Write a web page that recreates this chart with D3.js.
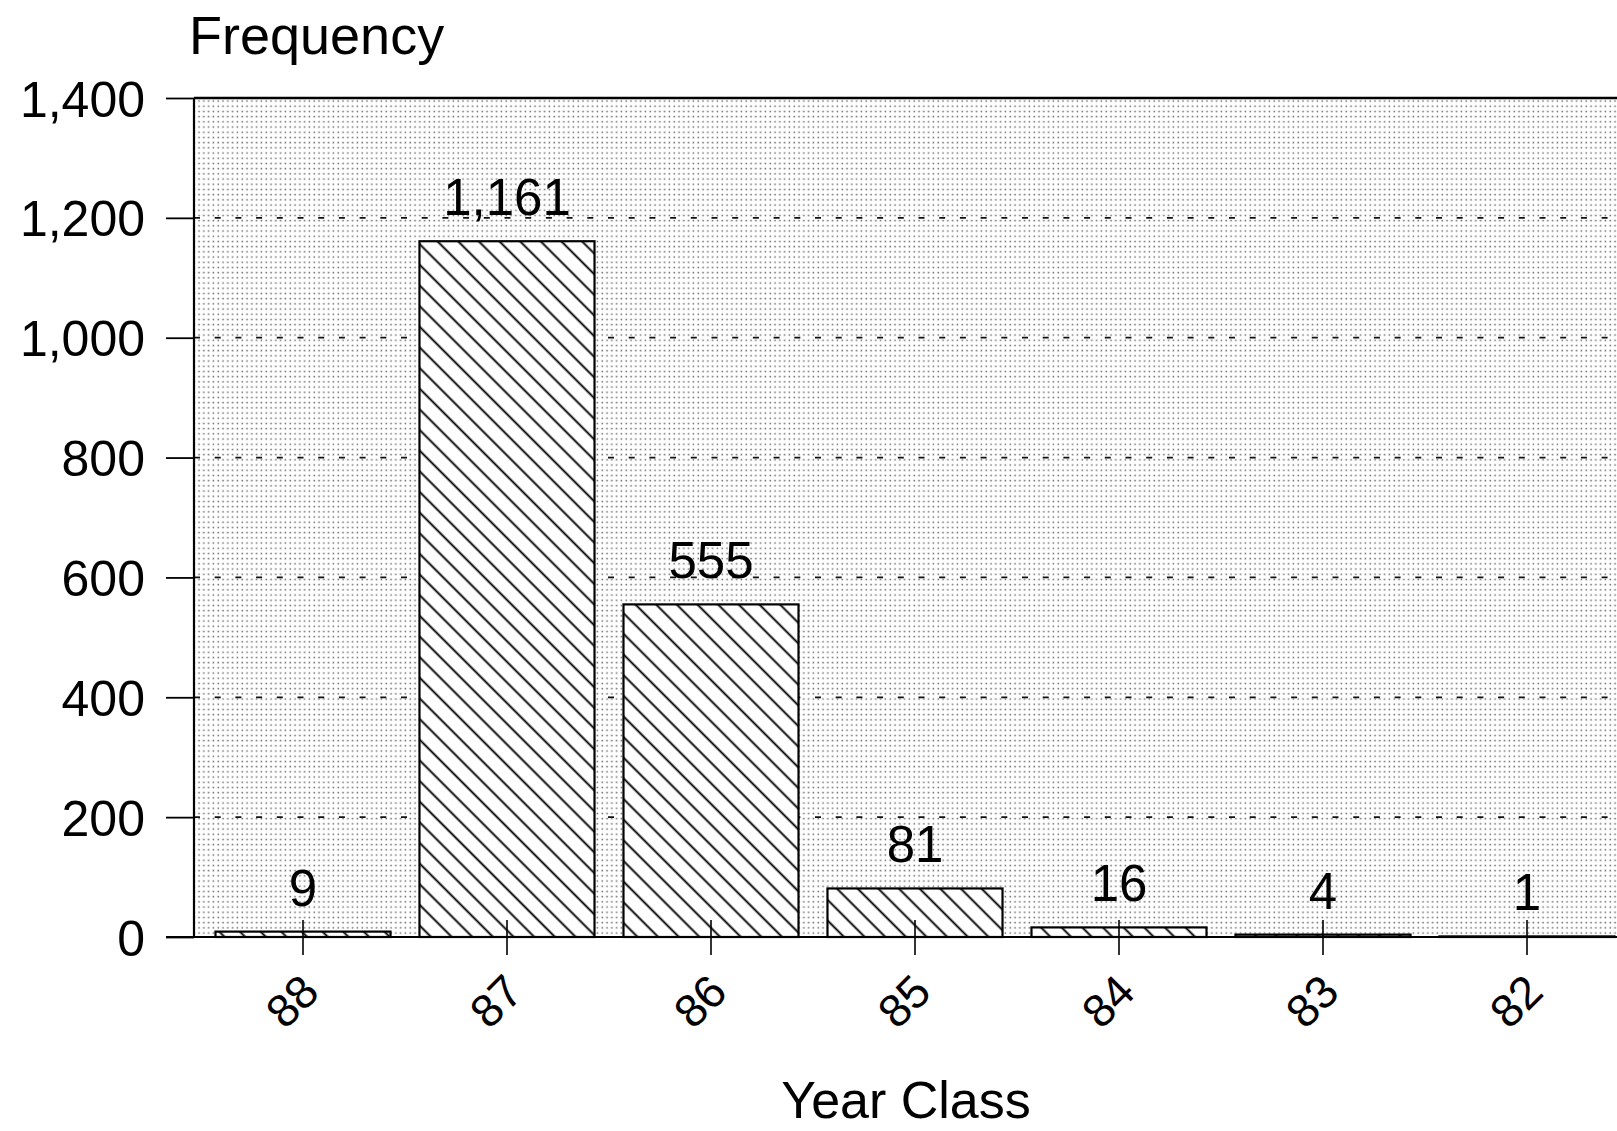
<!DOCTYPE html>
<html>
<head>
<meta charset="utf-8">
<script src="https://cdn.jsdelivr.net/npm/d3@7/dist/d3.min.js"></script>
<style>
  html, body { margin: 0; padding: 0; background: #fff; overflow: hidden; }
  svg { display: block; }
  text { font-family: "Liberation Sans", Arial, Helvetica, sans-serif; fill: #000; }
</style>
</head>
<body>
<script>
// ---- data ----
const categories = ["88", "87", "86", "85", "84", "83", "82"];
const values = [9, 1161, 555, 81, 16, 4, 1];
const yTicks = [0, 200, 400, 600, 800, 1000, 1200, 1400];
const gridValues = [200, 400, 600, 800, 1000, 1200];
const yTitle = "Frequency";
const xTitle = "Year Class";

// ---- layout ----
const W = 1617, H = 1131;
const plotLeft = 194, plotTop = 98, plotBottom = 937, plotRight = 1640;

const svg = d3.select("body").append("svg").attr("width", W).attr("height", H);
const defs = svg.append("defs");

// halftone dot background
const dw = 4.8, dh = 5.2;
const dots = defs.append("pattern").attr("id", "dots")
  .attr("patternUnits", "userSpaceOnUse").attr("width", dw).attr("height", dh);
dots.append("rect").attr("width", dw).attr("height", dh).attr("fill", "#fff");
dots.append("rect").attr("x", 1.5).attr("y", 1.5).attr("width", 1.5).attr("height", 1.5).attr("fill", "#666");

// diagonal hatch (45 degrees, "\" direction)
const hs = 14.6;
const hatch = defs.append("pattern").attr("id", "hatch")
  .attr("patternUnits", "userSpaceOnUse").attr("width", hs).attr("height", hs)
  .attr("patternTransform", "rotate(-45)");
hatch.append("rect").attr("width", hs).attr("height", hs).attr("fill", "#fff");
hatch.append("line").attr("x1", hs / 2).attr("x2", hs / 2).attr("y1", -1).attr("y2", hs + 1)
  .attr("stroke", "#000").attr("stroke-width", 1.9);

// ---- scales ----
const x = d3.scaleBand().domain(categories).range([201, 1629])
  .paddingInner(0.142).paddingOuter(0.071);
const y = d3.scaleLinear().domain([0, 1400]).range([plotBottom, plotTop]);

// background
svg.append("rect").attr("x", plotLeft).attr("y", plotTop)
  .attr("width", plotRight - plotLeft).attr("height", plotBottom - plotTop)
  .attr("fill", "url(#dots)");

// gridlines
svg.append("g").selectAll("line").data(gridValues).join("line")
  .attr("x1", plotLeft).attr("x2", plotRight)
  .attr("y1", d => y(d)).attr("y2", d => y(d))
  .attr("stroke", "#111").attr("stroke-width", 1.8)
  .attr("stroke-dasharray", "6,14.7");

// bars
const data = categories.map((c, i) => ({ c, v: values[i] }));
svg.append("g").selectAll("rect").data(data).join("rect")
  .attr("x", d => x(d.c)).attr("width", x.bandwidth())
  .attr("y", d => y(d.v)).attr("height", d => y(0) - y(d.v))
  .attr("fill", "url(#hatch)").attr("stroke", "#000").attr("stroke-width", 2.2);

// value labels
svg.append("g").selectAll("text").data(data).join("text")
  .attr("x", d => x(d.c) + x.bandwidth() / 2)
  .attr("y", d => y(d.v) - 26)
  .attr("text-anchor", "middle")
  .attr("font-size", 51)
  .text(d => d3.format(",")(d.v));

// frame lines
svg.append("line").attr("x1", plotLeft).attr("x2", plotRight)
  .attr("y1", plotTop).attr("y2", plotTop).attr("stroke", "#000").attr("stroke-width", 2.6);
svg.append("line").attr("x1", plotLeft).attr("x2", plotLeft)
  .attr("y1", plotTop).attr("y2", plotBottom).attr("stroke", "#000").attr("stroke-width", 2.2);
svg.append("line").attr("x1", 166).attr("x2", plotRight)
  .attr("y1", plotBottom).attr("y2", plotBottom).attr("stroke", "#000").attr("stroke-width", 2.2);

// y axis
const yAxis = svg.append("g").attr("transform", `translate(${plotLeft},0)`)
  .call(d3.axisLeft(y).tickValues(yTicks).tickFormat(d3.format(",")).tickSize(28).tickPadding(21));
yAxis.select(".domain").remove();
yAxis.selectAll(".tick line").attr("stroke", "#000").attr("stroke-width", 1.8);
yAxis.selectAll(".tick text").attr("font-size", 50).attr("dy", "0.36em")
  .attr("font-family", "'Liberation Sans', Arial, Helvetica, sans-serif");

// x axis
const xAxis = svg.append("g").attr("transform", `translate(0,${plotBottom})`)
  .call(d3.axisBottom(x).tickSize(18).tickPadding(0));
xAxis.select(".domain").remove();
xAxis.selectAll(".tick line").attr("y1", -17).attr("y2", 18)
  .attr("stroke", "#000").attr("stroke-width", 1.6);
xAxis.selectAll(".tick text")
  .attr("font-size", 46)
  .attr("font-family", "'Liberation Sans', Arial, Helvetica, sans-serif")
  .attr("text-anchor", "end")
  .attr("x", 0).attr("y", 0).attr("dy", "0.35em")
  .attr("transform", "translate(7,46) rotate(-45)");

// titles
svg.append("text").attr("x", 189).attr("y", 54).attr("font-size", 54).text(yTitle);
svg.append("text").attr("x", 906).attr("y", 1118).attr("text-anchor", "middle")
  .attr("font-size", 52).text(xTitle);
</script>
</body>
</html>
